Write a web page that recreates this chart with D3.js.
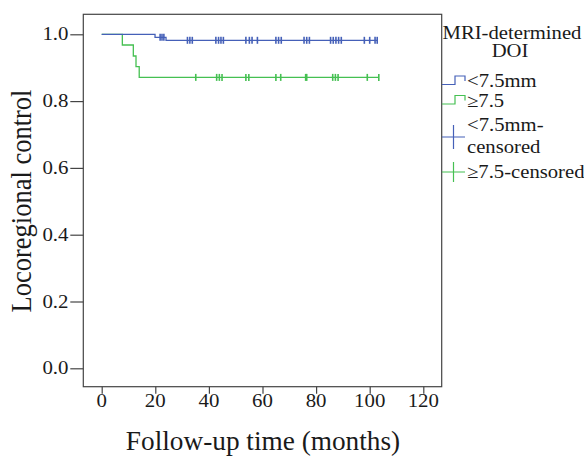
<!DOCTYPE html>
<html><head><meta charset="utf-8">
<script src="https://cdn.jsdelivr.net/npm/d3@7"></script>
<style>body{margin:0;background:#fff}svg{display:block}text{font-family:"Liberation Serif","Times New Roman",Times,serif}</style>
</head><body>
<svg id="c" width="584" height="456"></svg>
<script>
// ---- data ----
const groups = ["<7.5mm", "≥7.5"];
const blueEventTimes = [19.9, 24.0];
const blueSurvival   = [0.991, 0.982];
const blueCensored   = [21.8, 22.5, 23.2, 32.0, 32.9, 33.8, 42.6, 43.6, 44.5, 45.4,
                        53.8, 55.1, 56.1, 58.1, 65.0, 66.0, 67.0, 75.5, 76.5, 77.5,
                        85.4, 86.4, 87.4, 88.4, 89.4, 98.0, 100.0, 102.0, 102.8];
const greenEventTimes = [7.7, 11.8, 12.8, 14.0];
const greenSurvival   = [0.968, 0.935, 0.903, 0.871];
const greenCensored   = [35.1, 42.9, 43.9, 44.9, 53.8, 54.9, 65.0, 66.8, 76.1, 76.5,
                         86.2, 87.2, 88.2, 99.1, 103.4];
const xTicks = [0, 20, 40, 60, 80, 100, 120];
const yTicks = [0.0, 0.2, 0.4, 0.6, 0.8, 1.0];
const legendTitle = ["MRI-determined", "DOI"];
const legendLabels = ["<7.5mm", "≥7.5", ["<7.5mm-", "censored"], "≥7.5-censored"];

// ---- layout ----
const svg = d3.select("#c");
const SX = 1.13;
const frame = {l: 83.3, t: 14.3, r: 441.7, b: 386.7};
const x = d3.scaleLinear().domain([0, 120]).range([101.7, 423.3]);
const y = d3.scaleLinear().domain([0, 1]).range([368.3, 34.3]);
const BLUE = "#4560b8", GREEN = "#45c052", AX = "#444";

function txt(px, py, s, size, anchor, rot, sx) {
  const g = svg.append("g").attr("transform", `translate(${px},${py}) scale(${sx || SX},1)` + (rot ? ` rotate(${rot})` : ""));
  g.append("text").attr("x", 0).attr("y", 0).attr("text-anchor", anchor || "start")
    .attr("font-size", size).attr("fill", "#1a1a1a").text(s);
}

// frame
svg.append("rect").attr("x", frame.l).attr("y", frame.t)
  .attr("width", frame.r - frame.l).attr("height", frame.b - frame.t)
  .attr("fill", "none").attr("stroke", AX).attr("stroke-width", 1.2);

// axes (ticks only; frame draws the lines)
const yAx = svg.append("g").attr("transform", `translate(${frame.l},0)`)
  .call(d3.axisLeft(y).tickValues(yTicks).tickSize(13).tickFormat(""));
yAx.select(".domain").remove();
yAx.selectAll("line").attr("stroke", AX).attr("stroke-width", 1.2);
const xAx = svg.append("g").attr("transform", `translate(0,${frame.b})`)
  .call(d3.axisBottom(x).tickValues(xTicks).tickSize(7).tickFormat(""));
xAx.select(".domain").remove();
xAx.selectAll("line").attr("stroke", AX).attr("stroke-width", 1.2);

yTicks.forEach(v => txt(68.5, y(v) + 6, d3.format(".1f")(v), 18.5, "end"));
xTicks.forEach(v => txt(x(v), 407, String(v), 18.5, "middle"));

txt(263, 449.5, "Follow-up time (months)", 26.5, "middle", 0, 1.03);
txt(31, 201, "Locoregional control", 26.5, "middle", -90);

// KM curves
function survAt(times, surv, t) {
  let s = 1;
  times.forEach((tt, i) => { if (tt <= t) s = surv[i]; });
  return s;
}
function curve(times, surv, cens, color) {
  const end = d3.max(cens.concat(times));
  const pts = [[0, 1]].concat(times.map((t, i) => [t, surv[i]]), [[end, surv[surv.length - 1]]]);
  const line = d3.line().x(d => x(d[0])).y(d => y(d[1])).curve(d3.curveStepAfter);
  svg.append("path").attr("d", line(pts)).attr("fill", "none")
    .attr("stroke", color).attr("stroke-width", 1.3);
  svg.append("g").selectAll("line").data(cens).join("line")
    .attr("x1", d => x(d)).attr("x2", d => x(d))
    .attr("y1", d => y(survAt(times, surv, d)) - 3.5)
    .attr("y2", d => y(survAt(times, surv, d)) + 3.5)
    .attr("stroke", color).attr("stroke-width", 1.6);
}
curve(greenEventTimes, greenSurvival, greenCensored, GREEN);
curve(blueEventTimes, blueSurvival, blueCensored, BLUE);

// legend
txt(512, 39, legendTitle[0], 18.3, "middle");
txt(510, 57, legendTitle[1], 18.3, "middle");
const lg = svg.append("g").attr("fill", "none").attr("stroke-width", 1.2);
lg.append("path").attr("d", "M442,84.5H455V76H465V81").attr("stroke", BLUE);
lg.append("path").attr("d", "M442,104H455V95.5H465V100.5").attr("stroke", GREEN);
lg.append("path").attr("d", "M442,137H465M453.5,125V149").attr("stroke", BLUE);
lg.append("path").attr("d", "M442,172H465M453.5,162V182").attr("stroke", GREEN);
txt(467, 87, legendLabels[0], 18.3, "start");
txt(467, 107, legendLabels[1], 18.3, "start");
txt(467, 131, legendLabels[2][0], 18.3, "start");
txt(467, 153, legendLabels[2][1], 18.3, "start");
txt(467, 178, legendLabels[3], 18.3, "start");
</script>
</body></html>
